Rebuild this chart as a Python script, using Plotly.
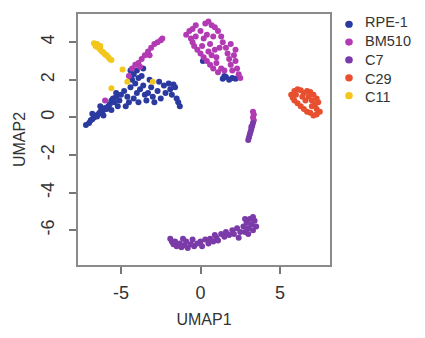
import plotly.graph_objects as go

# Cell lines shown in the embedding, legend order
cell_lines = ["RPE-1", "BM510", "C7", "C29", "C11"]
colors = ["#2b3aa0", "#b23ab2", "#7a3aa8", "#e84f2e", "#f3c61c"]

# UMAP coordinates per cell line
rpe1_x = [-7.2, -7.0, -6.9, -6.8, -6.7, -6.6, -6.5, -6.4, -6.3, -6.2, -6.1, -6.0, -5.9, -5.8,
          -5.7, -6.3, -5.6, -5.5, -5.4, -5.3, -5.2, -5.0, -5.1, -4.8, -4.6, -4.5, -4.4, -4.3,
          -4.2, -4.1, -4.0, -3.9, -3.8, -3.7, -3.6, -3.5, -3.4, -4.2, -3.9, -3.3, -3.1, -3.0,
          -2.9, -2.7, -2.5, -2.3, -2.2, -2.0, -1.9, -1.8, -1.6, -1.5, -1.4, -1.3, -3.6, -4.4,
          -4.0, -4.7, -5.6, -3.2, -2.6, -6.8, -6.1, -5.3, -1.7,
          1.4, 1.6, 1.8, 2.0, 2.2, 1.5, 0.15]
rpe1_y = [-0.4, -0.3, -0.15, -0.1, 0.0, 0.1, 0.05, 0.2, 0.3, 0.25, 0.4, 0.5, 0.45, 0.6,
          0.7, 0.6, 0.9, 1.0, 0.8, 1.1, 0.6, 1.2, 0.9, 1.4, 1.1, 0.8, 1.6, 2.0,
          2.3, 1.8, 2.5, 2.1, 1.5, 2.2, 1.7, 1.2, 0.9, 1.0, 0.8, 1.3, 1.6, 1.1,
          0.8, 1.4, 1.0, 1.7, 1.3, 1.8, 1.5, 1.2, 1.6, 1.0, 0.8, 0.6, 2.6, 2.5,
          1.3, 0.6, 0.4, 2.0, 1.9, 0.2, 0.1, 1.3, 1.75,
          2.05, 2.15, 2.0, 2.1, 2.05, 2.2, 3.0]

bm510_x = [-4.3, -4.1, -3.9, -3.7, -3.5, -3.3, -3.1, -2.9, -2.7, -2.5, -2.4, -3.8, -3.2, -6.0, -4.5,
           -0.9, -0.7, -0.6, -0.5, -0.4, -0.3, -0.2, 0.0, 0.1, 0.2, 0.4, 0.5, 0.6, 0.8, 1.0, 1.1,
           1.3, 1.5, -0.5, -0.3, 0.0, 0.3, 0.5, 0.7, 0.9, 1.1, 0.4, 0.8, 0.2, 0.6, 0.9, 0.7,
           1.0, 1.2, 1.3, 1.4, 1.6, 1.7, 1.8, 1.9, 2.1, 2.2, 2.3, 2.4, 2.5, 2.0, 2.2, 1.9,
           3.3, 3.35, 3.3, 3.35]
bm510_y = [2.6, 2.8, 2.9, 3.1, 3.3, 3.5, 3.7, 3.9, 4.0, 4.1, 4.2, 2.7, 3.3, 0.9, 2.2,
           4.4, 4.6, 4.2, 4.0, 3.8, 4.3, 3.6, 3.4, 3.8, 3.2, 3.0, 3.5, 2.8, 2.6, 2.9, 2.4,
           2.6, 2.5, 4.7, 4.9, 4.6, 5.0, 5.1, 4.9, 4.8, 4.6, 4.4, 4.3, 4.2, 3.9, 3.6, 3.3,
           3.2, 3.7, 4.3, 4.0, 3.7, 3.4, 3.1, 2.8, 3.3, 3.0, 2.6, 2.3, 2.1, 2.5, 3.6, 3.9,
           0.3, 0.15, 0.0, -0.15]

c7_x = [3.3, 3.25, 3.2, 3.15, 3.1, 3.05, 3.0, 3.2,
        -1.9, -1.8, -1.7, -1.6, -1.5, -1.3, -1.2, -1.0, -0.9, -0.8, -0.6, -0.5, -0.4, -0.2,
        0.0, 0.1, 0.3, 0.5, 0.6, 0.8, 1.0, 1.1, 1.3, 1.5, 1.6, 1.8, 2.0, 2.1, 2.3, 2.5,
        2.4, 2.7, 2.8, 2.9, 3.0, 3.1, 3.2, 3.3, 3.4, 3.5, 3.0, 2.8, 3.3, -1.1, 0.9]
c7_y = [-0.3, -0.45, -0.6, -0.75, -0.9, -1.05, -1.2, -0.5,
        -6.45, -6.6, -6.75, -6.6, -6.85, -6.7, -6.9, -6.8, -6.6, -6.95, -6.75, -6.5, -6.85, -6.7,
        -6.6, -6.85, -6.5, -6.7, -6.45, -6.6, -6.4, -6.55, -6.2, -6.35, -6.1, -6.25, -6.0, -6.2,
        -5.9, -6.1, -6.4, -5.8, -6.1, -5.6, -5.9, -5.4, -5.7, -6.0, -5.5, -5.8, -6.2, -5.4,
        -5.3, -6.45, -6.25]

c29_x = [5.7, 5.9, 6.1, 6.3, 6.5, 6.7, 6.9, 7.1, 7.3, 7.4, 7.2, 7.0, 7.3, 7.5,
         7.3, 7.1, 6.9, 6.7, 6.5, 6.3, 6.1, 5.9, 5.8, 6.0, 6.6, 6.8, 7.0, 6.4]
c29_y = [1.2, 1.4, 1.5, 1.45, 1.3, 1.4, 1.35, 1.2, 1.0, 0.8, 0.7, 0.6, 0.45, 0.3,
         0.15, 0.1, 0.25, 0.3, 0.45, 0.6, 0.75, 0.9, 1.05, 1.2, 0.9, 1.1, 0.9, 1.1]

c11_x = [-6.7, -6.6, -6.5, -6.4, -6.3, -6.2, -6.1, -6.0, -5.9, -5.8, -5.7, -5.6, -6.5, -6.3,
         -4.9, -3.0, -5.6, -4.6]
c11_y = [3.95, 3.8, 3.9, 3.7, 3.6, 3.5, 3.45, 3.35, 3.3, 3.2, 3.1, 3.05, 3.75, 3.8,
         2.55, 1.9, 1.55, 1.9]

xs = [rpe1_x, bm510_x, c7_x, c29_x, c11_x]
ys = [rpe1_y, bm510_y, c7_y, c29_y, c11_y]

x_ticks = [-5, 0, 5]
x_tick_labels = ["-5", "0", "5"]
y_ticks = [-6, -4, -2, 0, 2, 4]
y_tick_labels = ["-6", "-4", "-2", "0", "2", "4"]

FONT = "Liberation Sans, Arial"
TEXT = "#333333"

fig = go.Figure()
for name, color, x, y in zip(cell_lines, colors, xs, ys):
    fig.add_trace(go.Scatter(
        x=x, y=y, mode="markers", name=name, showlegend=False,
        marker=dict(color=color, size=6, line=dict(width=0)),
    ))

# Legend beside the panel: one multi-line label block plus a dot per row
W, H = 425, 338
ml, mr, mt, mb = 78, 95, 13, 60
pw, ph = W - ml - mr, H - mt - mb
legend_size = 14.5
row_step = 1.3 * legend_size
block_center = 61.5
fig.add_annotation(xref="paper", yref="paper", x=(363 - ml) / pw,
                   y=1 - (block_center - mt) / ph,
                   text="<br>".join(cell_lines), showarrow=False, align="left",
                   xanchor="left", yanchor="middle",
                   font=dict(family=FONT, size=legend_size, color=TEXT))
n = len(cell_lines)
for i, color in enumerate(colors):
    cy = 1 - (block_center + (i - (n - 1) / 2) * row_step - mt) / ph
    cx = (349 - ml) / pw
    rx, ry = 3.8 / pw, 3.8 / ph
    fig.add_shape(type="circle", xref="paper", yref="paper",
                  x0=cx - rx, x1=cx + rx, y0=cy - ry, y1=cy + ry,
                  fillcolor=color, line=dict(width=0))

axis_common = dict(
    showgrid=False, zeroline=False, showline=True, mirror=True,
    linecolor="#8a8a8a", linewidth=2, ticks="outside", ticklen=7,
    tickwidth=1.5, tickcolor="#777777",
    tickfont=dict(family=FONT, size=18, color=TEXT),
)
fig.update_xaxes(range=[-7.7, 8.14], tickvals=x_ticks, ticktext=x_tick_labels,
                 ticklabelstandoff=3, **axis_common,
                 title=dict(text="UMAP1", standoff=12,
                            font=dict(family=FONT, size=16, color=TEXT)))
fig.update_yaxes(range=[-7.85, 5.5], tickvals=y_ticks, ticktext=y_tick_labels,
                 tickangle=-90, ticklabelstandoff=8, **axis_common,
                 title=dict(text="UMAP2", standoff=8,
                            font=dict(family=FONT, size=16, color=TEXT)))

fig.update_layout(
    width=W, height=H, margin=dict(l=ml, r=mr, t=mt, b=mb),
    paper_bgcolor="white", plot_bgcolor="white", showlegend=False,
)

fig.write_html("out.html")
